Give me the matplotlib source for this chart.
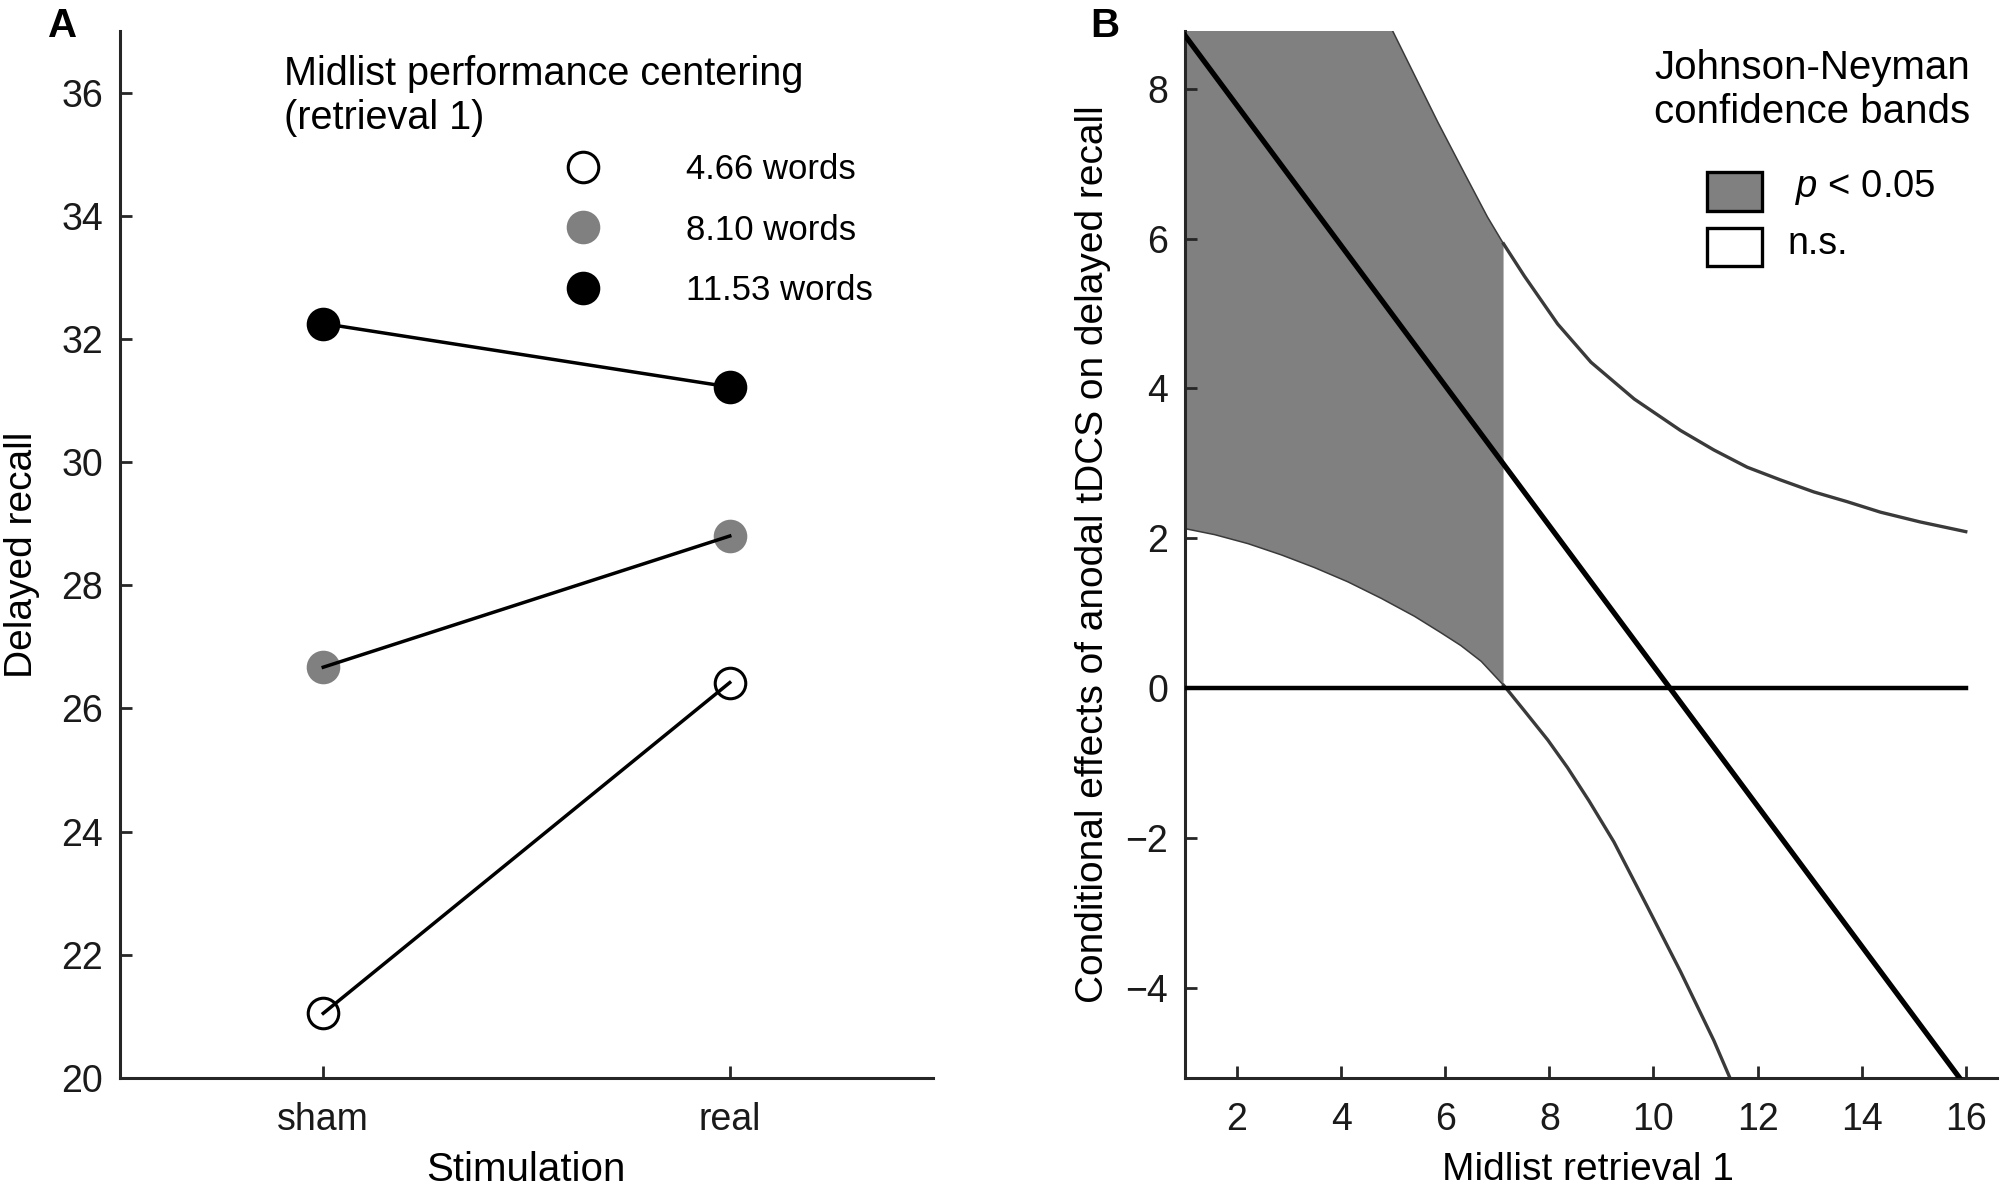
import matplotlib
matplotlib.use("Agg")
import matplotlib.pyplot as plt
from matplotlib.patches import Rectangle
import numpy as np

plt.rcParams['font.family'] = ['Liberation Sans', 'DejaVu Sans']
plt.rcParams['mathtext.fontset'] = 'custom'
plt.rcParams['mathtext.it'] = 'Liberation Sans:italic'
plt.rcParams['mathtext.rm'] = 'Liberation Sans'

# ---------------- data: panel A ----------------
stim_labels = ['sham', 'real']
group_labels = ['4.66 words', '8.10 words', '11.53 words']
recall_low = [21.05, 26.42]     # 4.66 words (open)
recall_mid = [26.67, 28.80]     # 8.10 words (gray)
recall_high = [32.25, 31.22]    # 11.53 words (black)
yticks_a = [20, 22, 24, 26, 28, 30, 32, 34, 36]

# ---------------- data: panel B ----------------
effect_x = [1.0, 16.0]
effect_y = [8.71, -5.31]
zero_x = [1.0, 16.0]
zero_y = [0.0, 0.0]
upper_x = [4.99, 5.41, 5.86, 6.37, 6.81, 7.12, 7.52, 8.16, 8.80, 9.63, 10.52,
           11.16, 11.80, 12.44, 13.08, 13.72, 14.36, 15.12, 16.0]
upper_y = [8.77, 8.18, 7.55, 6.87, 6.29, 5.93, 5.50, 4.86, 4.35, 3.86, 3.44,
           3.18, 2.95, 2.78, 2.62, 2.49, 2.35, 2.22, 2.09]
lower_x = [1.0, 1.57, 2.21, 2.85, 3.49, 4.13, 4.77, 5.41, 5.92, 6.30, 6.69, 7.12,
           7.17, 7.52, 7.97, 8.35, 8.76, 9.24, 9.88, 10.52, 11.16, 11.47]
lower_y = [2.13, 2.05, 1.93, 1.78, 1.61, 1.42, 1.20, 0.96, 0.74, 0.57, 0.36, 0.04,
           0.0, -0.30, -0.69, -1.06, -1.50, -2.05, -2.91, -3.78, -4.70, -5.20]
jn_x = 7.12
xticks_b = [2, 4, 6, 8, 10, 12, 14, 16]
yticks_b = [-4, -2, 0, 2, 4, 6, 8]

W, H = 2001, 1190
fig = plt.figure(figsize=(W / 100, H / 100), dpi=100)

spine_c = '#262626'
gray = '#808080'

def style_axes(ax):
    for s in ['top', 'right']:
        ax.spines[s].set_visible(False)
    for s in ['left', 'bottom']:
        ax.spines[s].set_linewidth(2.2)
        ax.spines[s].set_color(spine_c)
    ax.tick_params(direction='in', length=8.5, width=2.0, color=spine_c,
                   labelsize=27, labelcolor='#1a1a1a')
    ax.tick_params(axis='y', pad=12)
    ax.tick_params(axis='x', pad=17)

# ---------------- panel A ----------------
axA = fig.add_axes([120 / W, 1 - 1078 / H, 813 / W, 1047 / H])
style_axes(axA)
xpos = np.arange(1, len(stim_labels) + 1)
ms, mew = 22, 2.2
axA.plot(xpos, recall_low, 'o', ms=ms, mfc='white', mec='black', mew=mew, zorder=3)
axA.plot(xpos, recall_mid, 'o', ms=ms, mfc=gray, mec=gray, mew=mew, zorder=3)
axA.plot(xpos, recall_high, 'o', ms=ms, mfc='black', mec='black', mew=mew, zorder=3)
for vals in (recall_low, recall_mid, recall_high):
    axA.plot(xpos, vals, '-', color='black', lw=2.5, zorder=4)
axA.set_xlim(0.5, 2.5)
axA.set_ylim(20, 37)
axA.set_xticks(xpos)
axA.set_xticklabels(stim_labels)
axA.set_yticks(yticks_a)
axA.set_xlabel('Stimulation', fontsize=29)
axA.set_ylabel('Delayed recall', fontsize=28)
axA.yaxis.set_label_coords(-0.1205, 0.4995)
axA.yaxis.label.set_verticalalignment('center')
axA.xaxis.set_label_coords(0.4994, -0.088)
axA.xaxis.label.set_verticalalignment('center')

# legend A
axA.text(0.2017, 0.9484, 'Midlist performance centering', transform=axA.transAxes,
         fontsize=28.5, ha='left', va='baseline')
axA.text(0.2017, 0.9064, '(retrieval 1)', transform=axA.transAxes,
         fontsize=28.5, ha='left', va='baseline')
leg_my = [0.8701, 0.8128, 0.7545]
leg_ty = [0.8587, 0.8004, 0.7431]
leg_style = [dict(mfc='white', mec='black'), dict(mfc=gray, mec=gray), dict(mfc='black', mec='black')]
for lab, my, ty, st in zip(group_labels, leg_my, leg_ty, leg_style):
    axA.plot([0.5695], [my], 'o', ms=ms, mew=mew, transform=axA.transAxes, clip_on=False, **st)
    axA.text(0.6962, ty, lab, transform=axA.transAxes, fontsize=25, ha='left', va='baseline')

# ---------------- panel B ----------------
axB = fig.add_axes([1185 / W, 1 - 1078 / H, 812 / W, 1047 / H])
style_axes(axB)
ylo, yhi = -5.2, 8.77
axB.set_xlim(1.0, 16.6)
axB.set_ylim(ylo, yhi)

# shaded significance region
poly = [(x, y) for x, y in zip(lower_x, lower_y) if x <= jn_x]
poly += [(x, y) for x, y in zip(upper_x[::-1], upper_y[::-1]) if x <= jn_x]
poly += [(upper_x[0], yhi), (lower_x[0], yhi)]
px, py = zip(*poly)
axB.fill(px, py, color=gray, lw=0, zorder=1)

curve_c = '#3a3a3a'
def draw_curve(xs, ys):
    xs = np.asarray(xs); ys = np.asarray(ys)
    inside = xs <= jn_x
    axB.plot(xs[inside], ys[inside], color=curve_c, lw=1.1, zorder=2,
             solid_joinstyle='round')
    k = np.argmax(~inside) - 1
    axB.plot(xs[k:], ys[k:], color=curve_c, lw=2.4, zorder=2, solid_joinstyle='round')
draw_curve(upper_x, upper_y)
draw_curve(lower_x, lower_y)

axB.plot(zero_x, zero_y, color='black', lw=3.2, zorder=3)
axB.plot(effect_x, effect_y, color='black', lw=3.8, zorder=4)

axB.set_xticks(xticks_b)
axB.set_yticks(yticks_b)
axB.set_xlabel('Midlist retrieval 1', fontsize=28)
axB.set_ylabel('Conditional effects of anodal tDCS on delayed recall', fontsize=28)
axB.yaxis.set_label_coords(-0.1133, 0.5005)
axB.yaxis.label.set_verticalalignment('center')
axB.xaxis.set_label_coords(0.4963, -0.088)
axB.xaxis.label.set_verticalalignment('center')

# legend B
axB.text(0.772, 0.9542, 'Johnson-Neyman', transform=axB.transAxes, fontsize=29,
         ha='center', va='baseline')
axB.text(0.772, 0.9121, 'confidence bands', transform=axB.transAxes, fontsize=29,
         ha='center', va='baseline')
axB.add_patch(Rectangle((0.6429, 0.8281), 0.0677, 0.0372, transform=axB.transAxes,
                        facecolor=gray, edgecolor='black', lw=2.4, clip_on=False))
axB.add_patch(Rectangle((0.6429, 0.7755), 0.0677, 0.0363, transform=axB.transAxes,
                        facecolor='white', edgecolor='black', lw=2.4, clip_on=False))
axB.text(0.7512, 0.8415, r'$p$ < 0.05', transform=axB.transAxes, fontsize=27.5,
         ha='left', va='baseline')
axB.text(0.7414, 0.787, 'n.s.', transform=axB.transAxes, fontsize=27,
         ha='left', va='baseline')

# panel letters
fig.text(48 / W, 1 - 37 / H, 'A', fontsize=29, fontweight='bold', ha='left', va='baseline')
fig.text(1090 / W, 1 - 37 / H, 'B', fontsize=29, fontweight='bold', ha='left', va='baseline')

fig.savefig('out.png', dpi=100)
